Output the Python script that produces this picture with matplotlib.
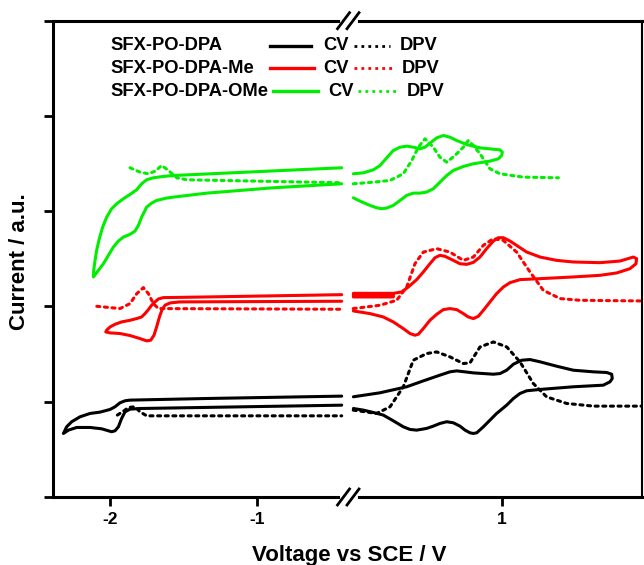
import matplotlib
matplotlib.use("Agg")
import matplotlib.pyplot as plt
from matplotlib.lines import Line2D

plt.rcParams['font.family'] = ['Liberation Sans', 'DejaVu Sans']
plt.rcParams['font.weight'] = 'bold'

# ---------------- data (arbitrary current units, stacked) ----------------
# Left (reduction) window
blk_cv_L_x = [-0.424, -1.342, -1.864, -1.898, -1.932, -1.966, -2.0, -2.068, -2.136, -2.204, -2.261,
              -2.295, -2.317, -2.283, -2.227, -2.136, -2.057, -1.989, -1.966, -1.943, -1.921,
              -1.898, -1.864, -1.796, -0.424]
blk_cv_L_y = [1.059, 1.034, 1.017, 1.010, 0.989, 0.947, 0.919, 0.891, 0.877, 0.842, 0.790,
              0.737, 0.667, 0.702, 0.730, 0.730, 0.716, 0.685, 0.695, 0.737, 0.825,
              0.894, 0.922, 0.929, 0.964]
blk_dpv_L_x = [-1.95, -1.90, -1.875, -1.83, -1.796, -1.75, -0.424]
blk_dpv_L_y = [0.86, 0.91, 0.94, 0.947, 0.894, 0.852, 0.852]

red_cv_L_x = [-0.424, -1.342, -1.637, -1.671, -1.694, -1.717, -1.739, -1.762, -1.785, -1.819, -1.864,
              -1.921, -1.966, -2.0, -2.023, -2.029, -2.0, -1.932, -1.864, -1.796, -1.751, -1.723,
              -1.701, -1.683, -1.664, -1.646, -1.626, -1.592, -1.524, -0.424]
red_cv_L_y = [2.124, 2.100, 2.093, 2.079, 2.048, 2.013, 1.967, 1.925, 1.890, 1.873, 1.855,
              1.838, 1.813, 1.785, 1.751, 1.733, 1.723, 1.716, 1.695, 1.663, 1.639, 1.646,
              1.698, 1.785, 1.890, 1.967, 2.013, 2.037, 2.048, 2.055]
red_dpv_L_x = [-2.09, -1.932, -1.864, -1.818, -1.773, -1.739, -1.705, -1.671, -0.424]
red_dpv_L_y = [2.002, 1.978, 2.03, 2.135, 2.198, 2.135, 2.03, 1.978, 1.971]

grn_cv_L_x = [-0.424, -1.569, -1.637, -1.705, -1.751, -1.785, -1.819, -1.864, -1.909, -1.955, -1.989,
              -2.023, -2.050, -2.073, -2.091, -2.102, -2.111, -2.113, -2.079, -2.045, -2.011,
              -1.977, -1.943, -1.909, -1.864, -1.830, -1.807, -1.785, -1.751, -1.717, -1.683,
              -1.615, -1.569, -1.342, -0.889, -0.424]
grn_cv_L_y = [3.456, 3.375, 3.365, 3.351, 3.330, 3.288, 3.225, 3.176, 3.131, 3.078, 3.026,
              2.938, 2.834, 2.711, 2.589, 2.484, 2.379, 2.310, 2.379, 2.449, 2.537,
              2.624, 2.687, 2.729, 2.757, 2.792, 2.851, 2.938, 3.043, 3.085, 3.113,
              3.138, 3.148, 3.190, 3.246, 3.288]
grn_dpv_L_x = [-1.864, -1.796, -1.739, -1.694, -1.648, -1.603, -1.546, -1.478, -0.424]
grn_dpv_L_y = [3.456, 3.41, 3.393, 3.42, 3.48, 3.428, 3.351, 3.33, 3.299]

# Right (oxidation) window
blk_cv_R_x = [0.035, 0.208, 0.381, 0.489, 0.597, 0.662, 0.706, 0.814, 0.944, 0.987, 1.030, 1.074,
              1.128, 1.182, 1.247, 1.355, 1.463, 1.593, 1.680, 1.712, 1.716, 1.701, 1.658, 1.463,
              1.247, 1.160, 1.117, 1.074, 1.030, 0.965, 0.922, 0.879, 0.836, 0.814, 0.792, 0.760,
              0.727, 0.684, 0.641, 0.597, 0.554, 0.511, 0.446, 0.403, 0.359, 0.294, 0.229, 0.165,
              0.100, 0.035]
blk_cv_R_y = [1.052, 1.094, 1.157, 1.219, 1.279, 1.314, 1.324, 1.303, 1.289, 1.296, 1.331, 1.394,
              1.436, 1.443, 1.419, 1.373, 1.331, 1.314, 1.307, 1.289, 1.244, 1.209, 1.174, 1.157,
              1.129, 1.115, 1.087, 1.034, 0.964, 0.877, 0.807, 0.737, 0.674, 0.667, 0.674, 0.702,
              0.744, 0.779, 0.790, 0.772, 0.744, 0.720, 0.702, 0.709, 0.737, 0.800, 0.860, 0.887,
              0.912, 0.929]
blk_dpv_R_x = [0.034, 0.186, 0.273, 0.359, 0.424, 0.511, 0.576, 0.662, 0.749, 0.792, 0.857, 0.944,
               1.031, 1.117, 1.203, 1.29, 1.42, 1.593, 1.907]
blk_dpv_R_y = [0.912, 0.877, 0.947, 1.156, 1.436, 1.506, 1.523, 1.471, 1.401, 1.408, 1.575, 1.628,
               1.575, 1.418, 1.192, 1.051, 0.982, 0.954, 0.954]

red_cv_R_x = [0.294, 0.035, 0.035, 0.294, 0.294, 0.035, 0.035, 0.294, 0.348, 0.392, 0.446, 0.489,
              0.532, 0.565, 0.597, 0.630,
              0.684, 0.727, 0.771, 0.814, 0.857, 0.900, 0.944, 0.976, 1.009, 1.052, 1.095, 1.160,
              1.247, 1.355, 1.463, 1.636, 1.766, 1.853, 1.874, 1.870, 1.831, 1.745, 1.636, 1.463,
              1.247, 1.117, 1.052, 1.009, 0.965, 0.922, 0.879, 0.846, 0.814, 0.781, 0.749, 0.706,
              0.662, 0.619, 0.576, 0.532, 0.489, 0.457, 0.435, 0.403, 0.359, 0.294, 0.229, 0.143,
              0.035]
red_cv_R_y = [2.100, 2.100, 2.114, 2.114, 2.128, 2.128, 2.138, 2.138, 2.152, 2.205, 2.282, 2.362,
              2.449, 2.512, 2.537, 2.526,
              2.484, 2.449, 2.442, 2.463, 2.519, 2.607, 2.687, 2.722, 2.722, 2.687, 2.641, 2.572,
              2.519, 2.484, 2.467, 2.460, 2.477, 2.519, 2.502, 2.449, 2.397, 2.352, 2.327, 2.310,
              2.292, 2.282, 2.250, 2.205, 2.135, 2.048, 1.960, 1.897, 1.873, 1.890, 1.925, 1.967,
              1.978, 1.967, 1.918, 1.855, 1.768, 1.709, 1.698, 1.716, 1.768, 1.838, 1.890, 1.925,
              1.953]
red_dpv_R_x = [0.034, 0.208, 0.316, 0.381, 0.435, 0.489, 0.576, 0.662, 0.749, 0.814, 0.879, 0.944,
               1.008, 1.095, 1.182, 1.268, 1.377, 1.506, 1.907]
red_dpv_R_y = [1.978, 2.013, 2.065, 2.204, 2.45, 2.571, 2.607, 2.571, 2.484, 2.519, 2.642, 2.712,
               2.694, 2.571, 2.362, 2.17, 2.083, 2.065, 2.058]

grn_cv_R_x = [0.035, 0.100, 0.165, 0.208, 0.251, 0.294, 0.338, 0.381, 0.424, 0.468, 0.500, 0.532,
              0.576, 0.619, 0.662, 0.706, 0.771, 0.857, 0.944, 0.987, 1.002, 0.998, 0.976, 0.922,
              0.814, 0.749, 0.684, 0.641, 0.597, 0.554, 0.511, 0.468, 0.424, 0.381, 0.338, 0.294,
              0.251, 0.219, 0.186, 0.143, 0.078, 0.035]
grn_cv_R_y = [3.393, 3.403, 3.435, 3.480, 3.560, 3.637, 3.672, 3.683, 3.672, 3.655, 3.672, 3.714,
              3.770, 3.795, 3.777, 3.742, 3.700, 3.665, 3.651, 3.644, 3.620, 3.585, 3.550, 3.526,
              3.498, 3.470, 3.428, 3.375, 3.305, 3.236, 3.201, 3.190, 3.190, 3.166, 3.113, 3.061,
              3.033, 3.026, 3.036, 3.061, 3.106, 3.141]
grn_dpv_R_x = [0.034, 0.164, 0.273, 0.359, 0.414, 0.457, 0.5, 0.554, 0.597, 0.641, 0.695, 0.749,
               0.781, 0.814, 0.857, 0.922, 0.987, 1.138, 1.366]
grn_dpv_R_y = [3.288, 3.305, 3.323, 3.393, 3.532, 3.672, 3.76, 3.672, 3.567, 3.515, 3.585, 3.672,
               3.742, 3.69, 3.603, 3.445, 3.393, 3.358, 3.351]

names = ['SFX-PO-DPA', 'SFX-PO-DPA-Me', 'SFX-PO-DPA-OMe']
colors = ['black', '#ff0000', '#00ee00']
left_ticks = [-2, -1]
right_ticks = [1]
y_ticks = [0, 1, 2, 3, 4, 5]

# ---------------- figure ----------------
W, H = 644, 565
fig = plt.figure(figsize=(W / 100, H / 100), dpi=100)

def fx(px):
    return px / W

def fy(py):
    return 1 - py / H

x0, xb, x1 = 52.7, 348, 642
ytop, ybot = 20.7, 497
ax1 = fig.add_axes([fx(x0), fy(ybot), fx(xb) - fx(x0), fy(ytop) - fy(ybot)])
ax2 = fig.add_axes([fx(xb), fy(ybot), fx(x1) - fx(xb), fy(ytop) - fy(ybot)], sharey=ax1)

LW = 2.2
dot = (0, (1, 1.5))
left_sets = [(blk_cv_L_x, blk_cv_L_y, blk_dpv_L_x, blk_dpv_L_y),
             (red_cv_L_x, red_cv_L_y, red_dpv_L_x, red_dpv_L_y),
             (grn_cv_L_x, grn_cv_L_y, grn_dpv_L_x, grn_dpv_L_y)]
right_sets = [(blk_cv_R_x, blk_cv_R_y, blk_dpv_R_x, blk_dpv_R_y),
              (red_cv_R_x, red_cv_R_y, red_dpv_R_x, red_dpv_R_y),
              (grn_cv_R_x, grn_cv_R_y, grn_dpv_R_x, grn_dpv_R_y)]
for ax, sets in ((ax1, left_sets), (ax2, right_sets)):
    for (cx, cy, dx, dy), c in zip(sets, colors):
        ax.plot(dx, dy, color=c, lw=LW, ls=dot, dash_capstyle='round')
        ax.plot(cx, cy, color=c, lw=LW, solid_joinstyle='round', solid_capstyle='round')

ax1.set_xlim(-2.39, -0.381)
ax2.set_xlim(0.0, 1.909)
ax1.set_ylim(0, 5)

for ax in (ax1, ax2):
    for s in ax.spines.values():
        s.set_linewidth(2.2)
ax1.spines['right'].set_visible(False)
ax2.spines['left'].set_visible(False)
ax2.spines['right'].set_linewidth(1.5)

ax1.set_xticks(left_ticks)
ax1.set_xticklabels([str(t) for t in left_ticks])
ax2.set_xticks(right_ticks)
ax2.set_xticklabels([str(t) for t in right_ticks])
ax1.set_yticks(y_ticks)
ax1.set_yticklabels([])
ax2.tick_params(axis='y', left=False, labelleft=False)
for ax in (ax1, ax2):
    ax.tick_params(axis='both', direction='out', length=6.5, width=2.0,
                   labelsize=12.5, pad=4)
    for lab in ax.get_xticklabels():
        lab.set_fontweight('bold')

# axis break marks
for yc in (ytop, ybot):
    fig.add_artist(Line2D([fx(342), fx(355)], [fy(yc), fy(yc)], color='white', lw=3.5,
                          transform=fig.transFigure))
    for xc in (343.5, 353):
        fig.add_artist(Line2D([fx(xc - 6), fx(xc + 6)], [fy(yc + 8), fy(yc - 8)],
                              color='black', lw=2.0, transform=fig.transFigure))

# axis labels
fig.text(fx(349), fy(555), 'Voltage vs SCE / V', ha='center', va='center',
         fontsize=16, fontweight='bold')
fig.text(fx(20), fy(262), 'Current / a.u.', ha='center', va='center', rotation=90,
         fontsize=16, fontweight='bold')

# legend
rows_y = [46, 68, 91]
solid_x = [(270, 311), (270, 314), (273, 318)]
cv_x = [323, 323, 328]
dot_x = [(354, 390), (354, 392), (358, 396)]
dpv_x = [400, 402, 407]
for i, (nm, c) in enumerate(zip(names, colors)):
    yy = fy(rows_y[i])
    fig.text(fx(110), yy, nm, ha='left', va='center', fontsize=13.2, fontweight='bold')
    fig.add_artist(Line2D([fx(solid_x[i][0]), fx(solid_x[i][1])], [yy, yy], color=c, lw=2.4,
                          transform=fig.transFigure))
    fig.text(fx(cv_x[i]), yy, 'CV', ha='left', va='center', fontsize=13.2, fontweight='bold')
    fig.add_artist(Line2D([fx(dot_x[i][0]), fx(dot_x[i][1])], [yy, yy], color=c, lw=2.0,
                          ls=dot, transform=fig.transFigure))
    fig.text(fx(dpv_x[i]), yy, 'DPV', ha='left', va='center', fontsize=13.2, fontweight='bold')

fig.savefig('out.png', dpi=100)
